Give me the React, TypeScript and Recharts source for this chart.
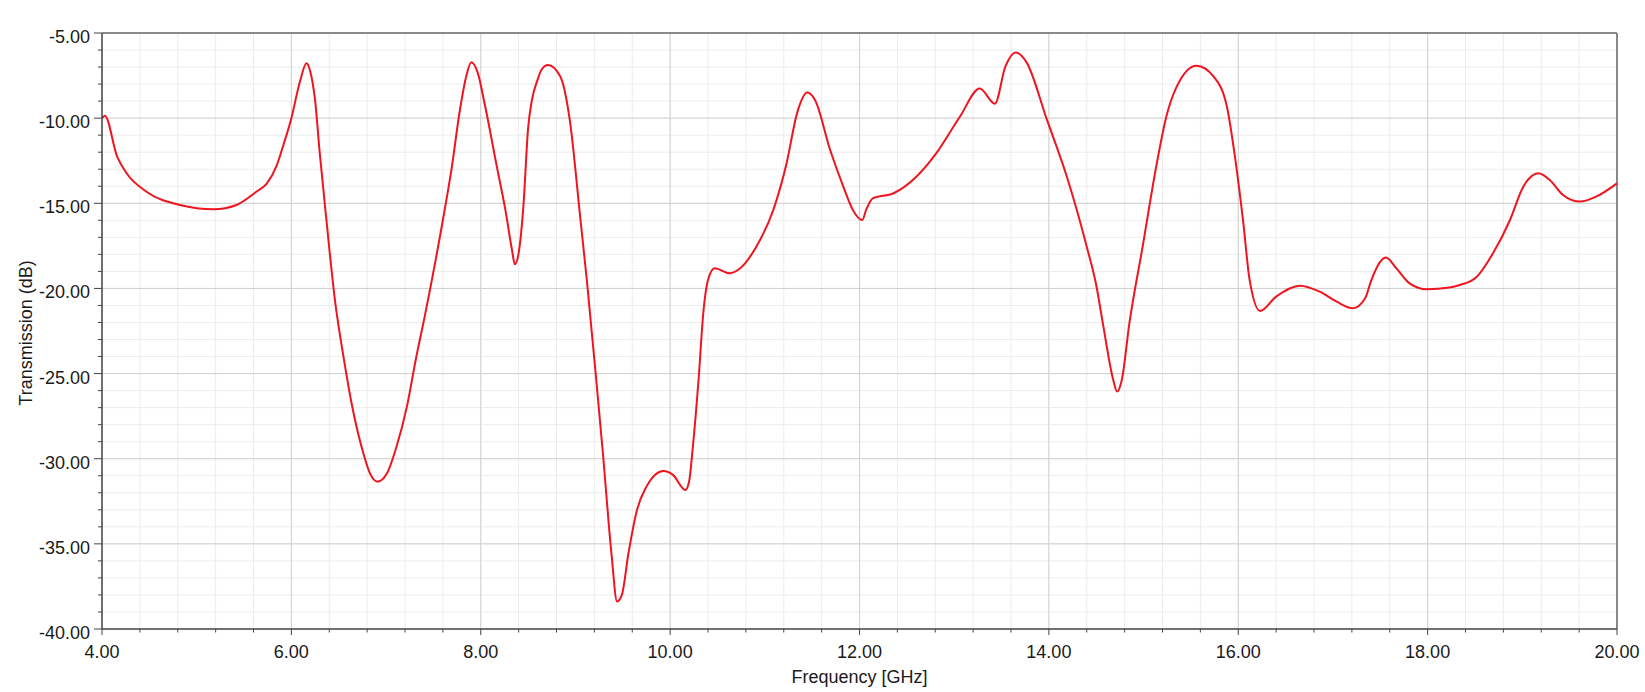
import { LineChart, Line, XAxis, YAxis, CartesianGrid, ReferenceLine } from "recharts"

// frequency (GHz) and transmission (dB)
const freq = [
  4.0, 4.03, 4.16, 4.26, 4.47, 4.82, 5.18, 5.42, 5.63, 5.74, 5.84, 5.92, 6.0, 6.09, 6.16, 6.2, 6.25,
  6.3, 6.37, 6.46, 6.55, 6.65, 6.76, 6.83, 6.91, 7.01, 7.11, 7.22, 7.32, 7.41, 7.6, 7.69, 7.78,
  7.85, 7.9, 7.97, 8.04, 8.17, 8.26, 8.33, 8.36, 8.4, 8.45, 8.5, 8.54, 8.6, 8.64, 8.71, 8.84,
  8.94, 9.05, 9.12, 9.22, 9.29, 9.38, 9.44, 9.49, 9.56, 9.65, 9.75, 9.93, 10.03, 10.16, 10.2,
  10.24, 10.3, 10.35, 10.4, 10.47, 10.63, 10.74, 10.91, 11.09, 11.23, 11.34, 11.45, 11.53,
  11.69, 11.83, 11.93, 12.03, 12.07, 12.14, 12.36, 12.6, 12.81, 13.06, 13.27, 13.43, 13.54,
  13.65, 13.76, 13.98, 14.19, 14.4, 14.5, 14.57, 14.68, 14.72, 14.77, 14.85, 14.99, 15.14,
  15.24, 15.35, 15.56, 15.74, 15.88, 15.96, 16.05, 16.12, 16.23, 16.4, 16.65, 16.86, 17.04,
  17.21, 17.34, 17.4, 17.5, 17.56, 17.67, 17.81, 17.99, 18.23, 18.34, 18.52, 18.69, 18.87,
  19.01, 19.17, 19.29, 19.43, 19.61, 19.78, 20.0,
]
const transmission = [
  -10.0, -9.86, -12.26, -13.24, -14.32, -15.1, -15.35, -15.1, -14.32, -13.85, -12.85, -11.5,
  -10.0, -7.86, -6.78, -7.27, -8.93, -12.07, -15.98, -20.68, -24.0, -27.14, -29.68, -30.86,
  -31.35, -30.86, -29.3, -26.94, -24.0, -21.6, -15.98, -13.04, -9.52, -7.47, -6.72, -7.37,
  -9.13, -12.85, -15.39, -17.74, -18.58, -17.94, -15.2, -10.6, -8.95, -7.75, -7.17, -6.88,
  -7.56, -10.1, -15.79, -19.5, -25.38, -29.68, -35.55, -38.39, -38.0, -35.55, -33.01, -31.64,
  -30.72, -30.95, -31.84, -31.35, -29.3, -25.38, -21.46, -19.5, -18.82, -19.11, -18.82,
  -17.55, -15.39, -12.65, -9.72, -8.5, -8.93, -11.87, -14.03, -15.39, -15.98, -15.39, -14.71,
  -14.41, -13.44, -12.07, -9.92, -8.26, -9.15, -6.98, -6.14, -6.68, -10.1, -13.44, -17.55,
  -19.8, -22.05, -25.38, -26.06, -25.38, -22.05, -17.55, -12.65, -9.92, -8.15, -6.92, -7.56,
  -9.32, -12.07, -15.98, -19.5, -21.32, -20.48, -19.84, -20.19, -20.78, -21.17, -20.58,
  -19.6, -18.43, -18.19, -18.82, -19.7, -20.05, -19.95, -19.8, -19.31, -17.94, -15.98,
  -14.03, -13.24, -13.63, -14.51, -14.9, -14.61, -13.83,
]

const xMajor = [4, 6, 8, 10, 12, 14, 16, 18, 20]
const xTicks = [
  4, 4.4, 4.8, 5.2, 5.6, 6, 6.4, 6.8, 7.2, 7.6, 8, 8.4, 8.8, 9.2, 9.6, 10, 10.4, 10.8, 11.2, 11.6,
  12, 12.4, 12.8, 13.2, 13.6, 14, 14.4, 14.8, 15.2, 15.6, 16, 16.4, 16.8, 17.2, 17.6, 18, 18.4,
  18.8, 19.2, 19.6, 20,
]
const yMajor = [-40, -35, -30, -25, -20, -15, -10, -5]
const yTicks = [
  -40, -39, -38, -37, -36, -35, -34, -33, -32, -31, -30, -29, -28, -27, -26, -25, -24, -23, -22,
  -21, -20, -19, -18, -17, -16, -15, -14, -13, -12, -11, -10, -9, -8, -7, -6, -5,
]

const data = freq.map((f, i) => ({ f, t: transmission[i] }))

const FONT = "'Liberation Sans', Arial, sans-serif"
const AXIS = "#444"

const isMajor = (v: number, list: number[]) => list.some((m) => Math.abs(m - v) < 1e-6)

function XTick({ x, y, payload }: any) {
  const major = isMajor(payload.value, xMajor)
  return (
    <g>
      <line x1={x} x2={x} y1={y} y2={y + (major ? 6 : 3.5)} stroke={AXIS} />
      {major && (
        <text x={x} y={y + 28.5} textAnchor="middle" fontSize={18} fontFamily={FONT} fill="#1a1a1a">
          {payload.value.toFixed(2)}
        </text>
      )}
    </g>
  )
}

function YTick({ x, y, payload }: any) {
  const major = isMajor(payload.value, yMajor)
  return (
    <g>
      <line x1={x} x2={x - (major ? 8 : 4)} y1={y} y2={y} stroke={AXIS} />
      {major && (
        <text x={x - 12} y={y + 10} textAnchor="end" fontSize={18} fontFamily={FONT} fill="#1a1a1a">
          {payload.value.toFixed(2)}
        </text>
      )}
    </g>
  )
}

export default function App() {
  return (
    <div style={{ position: "absolute", left: 0, top: 0, background: "#fff" }}>
      <LineChart width={1645} height={692} data={data} margin={{ top: 33, right: 28, bottom: 0, left: 0 }}>
        <CartesianGrid stroke="#ececec" strokeWidth={1} />
        {xMajor.slice(1, -1).map((v) => (
          <ReferenceLine key={"vx" + v} x={v} stroke="#d0d0d0" strokeWidth={1} />
        ))}
        {yMajor.slice(1, -1).map((v) => (
          <ReferenceLine key={"hy" + v} y={v} stroke="#d0d0d0" strokeWidth={1} />
        ))}
        <ReferenceLine y={-5} stroke="#666" strokeWidth={1.5} />
        <ReferenceLine x={20} stroke="#888" strokeWidth={2} />
        <XAxis
          dataKey="f"
          type="number"
          domain={[4, 20]}
          ticks={xTicks}
          interval={0}
          height={63}
          tickSize={0}
          tickMargin={0}
          tickLine={false}
          axisLine={{ stroke: AXIS, strokeWidth: 1.5 }}
          tick={<XTick />}
          label={({ viewBox }: any) => (
            <text
              x={viewBox.x + viewBox.width / 2}
              y={viewBox.y + 54}
              textAnchor="middle"
              fontSize={18}
              fontFamily={FONT}
              fill="#1a1a1a"
            >
              Frequency [GHz]
            </text>
          )}
        />
        <YAxis
          type="number"
          domain={[-40, -5]}
          ticks={yTicks}
          interval={0}
          width={102}
          tickSize={0}
          tickMargin={0}
          tickLine={false}
          axisLine={{ stroke: AXIS, strokeWidth: 1.5 }}
          tick={<YTick />}
          label={({ viewBox }: any) => (
            <text
              x={32}
              y={viewBox.y + viewBox.height / 2 + 2}
              transform={`rotate(-90, 32, ${viewBox.y + viewBox.height / 2 + 2})`}
              textAnchor="middle"
              fontSize={18}
              fontFamily={FONT}
              fill="#1a1a1a"
            >
              Transmission (dB)
            </text>
          )}
        />
        <Line
          type="monotone"
          dataKey="t"
          stroke="#f0141e"
          strokeWidth={2}
          dot={false}
          isAnimationActive={false}
        />
      </LineChart>
    </div>
  )
}
